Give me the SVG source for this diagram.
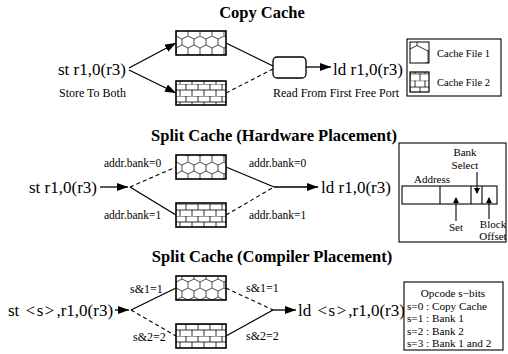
<svg xmlns="http://www.w3.org/2000/svg" width="508" height="354" viewBox="0 0 508 354">
<defs>
  <pattern id="hex" patternUnits="userSpaceOnUse" width="12" height="18" x="2" y="0">
    <path d="M0,3 L6,0 L12,3 M0,3 V9 M12,3 V9 M0,9 L6,12 L12,9 M6,12 V18" fill="none" stroke="#000" stroke-width="0.7"/>
  </pattern>
  <pattern id="hexBig" patternUnits="userSpaceOnUse" width="22" height="33" x="-1" y="-4">
    <path d="M0,5.5 L11,0 L22,5.5 M0,5.5 V16.5 M22,5.5 V16.5 M0,16.5 L11,22 L22,16.5 M11,22 V33" fill="none" stroke="#000" stroke-width="0.8"/>
  </pattern>
  <pattern id="brick" patternUnits="userSpaceOnUse" width="12" height="12" x="0" y="0">
    <path d="M0,0 H12 M0,6 H12 M6,0 V6 M0,6 V12 M12,6 V12" fill="none" stroke="#000" stroke-width="0.8"/>
  </pattern>
  <pattern id="brickSm" patternUnits="userSpaceOnUse" width="10" height="13.4" x="0" y="0">
    <path d="M0,0 H10 M0,6.7 H10 M5,0 V6.7 M0,6.7 V13.4 M10,6.7 V13.4" fill="none" stroke="#000" stroke-width="0.8"/>
  </pattern>
  <marker id="ah" markerUnits="userSpaceOnUse" markerWidth="12" markerHeight="8" refX="11" refY="4" orient="auto">
    <path d="M0,0 L11,4 L0,8 z" fill="#000"/>
  </marker>
  <marker id="ahs" markerUnits="userSpaceOnUse" markerWidth="6" markerHeight="8" refX="5" refY="3" orient="auto">
    <path d="M0,0 L6,3 L0,6 z" fill="#000"/>
  </marker>
</defs>
<style>
  text { font-family: "Liberation Serif", "Times New Roman", serif; fill: #000; }
  .title { font-size: 16.5px; font-weight: bold; text-anchor: middle; }
  .big { font-size: 17px; }
  .lbl { font-size: 12px; }
  .addr { font-size: 11.5px; }
  .sm { font-size: 11px; }
  .leg { font-size: 10.5px; }
  .op { font-size: 11.2px; }
  .cache { stroke: #000; stroke-width: 1.6; }
  .ln { stroke: #000; stroke-width: 1.3; fill: none; }
  .dash { stroke: #000; stroke-width: 1.1; fill: none; stroke-dasharray: 4 3; }
  .box { fill: #fff; stroke: #000; stroke-width: 1.1; }
</style>
<rect width="508" height="354" fill="#fff"/>

<!-- Section 1: Copy Cache -->
<text class="title" x="262" y="18">Copy Cache</text>
<g id="c1-st"><text class="big" x="58" y="75">st r1,0(r3)</text></g>
<g id="c1-st-label"><text class="lbl" x="59" y="97">Store To Both</text></g>
<g id="c1-file1"><rect class="cache" x="176" y="31" width="50" height="24" fill="url(#hex)"/></g>
<g id="c1-file2"><rect class="cache" x="176" y="81" width="50" height="24" fill="url(#brick)"/></g>
<g id="c1-port"><rect x="273" y="57" width="33" height="21" rx="4" fill="#fff" stroke="#000" stroke-width="1.3"/></g>
<g id="c1-ld"><text class="big" x="333" y="75">ld r1,0(r3)</text></g>
<g id="c1-ld-label"><text class="lbl" x="273" y="97">Read From First Free Port</text></g>
<g id="legend1">
  <rect class="box" x="407" y="39" width="94" height="57"/>
  <rect x="410" y="42" width="19" height="21" fill="url(#hexBig)" stroke="#000" stroke-width="1"/>
  <rect x="410" y="72" width="19" height="20" fill="url(#brickSm)" stroke="#000" stroke-width="1.2"/>
  <text class="leg" x="437" y="57">Cache File 1</text>
  <text class="leg" x="437" y="86">Cache File 2</text>
</g>

<!-- Section 2: Split Cache (Hardware Placement) -->
<text class="title" x="274" y="141">Split Cache (Hardware Placement)</text>
<g id="c2-st"><text class="big" x="29" y="193">st r1,0(r3)</text></g>
<g id="c2-file1"><rect class="cache" x="176" y="155" width="50" height="24" fill="url(#hex)"/></g>
<g id="c2-file2"><rect class="cache" x="176" y="203" width="50" height="24" fill="url(#brick)"/></g>
<g id="c2-ld"><text class="big" x="321" y="193">ld r1,0(r3)</text></g>
<g id="c2-labels">
  <text class="addr" x="104" y="167">addr.bank=0</text>
  <text class="addr" x="104" y="219">addr.bank=1</text>
  <text class="addr" x="249" y="167">addr.bank=0</text>
  <text class="addr" x="249" y="219">addr.bank=1</text>
</g>
<g id="address">
  <rect class="box" x="399" y="143" width="107" height="99"/>
  <rect x="402" y="186" width="95" height="18" fill="none" stroke="#000" stroke-width="1.1"/>
  <path d="M440,186 V204 M471,186 V204 M482,186 V204" stroke="#000" stroke-width="1.1"/>
  <text class="sm" x="432" y="183" text-anchor="middle">Address</text>
  <text class="sm" x="465" y="156" text-anchor="middle">Bank</text>
  <text class="sm" x="465" y="169" text-anchor="middle">Select</text>
  <line x1="477" y1="172" x2="477" y2="193" stroke="#000" stroke-width="1.1" marker-end="url(#ahs)"/>
  <line x1="456" y1="221" x2="456" y2="198" stroke="#000" stroke-width="1.1" marker-end="url(#ahs)"/>
  <line x1="489" y1="219" x2="489" y2="198" stroke="#000" stroke-width="1.1" marker-end="url(#ahs)"/>
  <text class="sm" x="456" y="231" text-anchor="middle">Set</text>
  <text class="sm" x="493" y="228" text-anchor="middle">Block</text>
  <text class="sm" x="493" y="240" text-anchor="middle">Offset</text>
</g>

<!-- Section 3: Split Cache (Compiler Placement) -->
<text class="title" x="272" y="262">Split Cache (Compiler Placement)</text>
<g id="c3-st"><text class="big" x="8" y="316">st <tspan dx="2">&lt;</tspan><tspan dx="1.5">s</tspan><tspan dx="1.5">&gt;</tspan><tspan dx="2">,r1,0(r3)</tspan></text></g>
<g id="c3-file1"><rect class="cache" x="176" y="276" width="50" height="24" fill="url(#hex)"/></g>
<g id="c3-file2"><rect class="cache" x="176" y="324" width="50" height="24" fill="url(#brick)"/></g>
<g id="c3-ld"><text class="big" x="298" y="316">ld <tspan dx="2">&lt;</tspan><tspan dx="1.5">s</tspan><tspan dx="1.5">&gt;</tspan><tspan dx="2">,r1,0(r3)</tspan></text></g>
<g id="c3-labels">
  <text class="lbl" x="130" y="293">s&amp;1=1</text>
  <text class="lbl" x="133" y="341">s&amp;2=2</text>
  <text class="lbl" x="246" y="292">s&amp;1=1</text>
  <text class="lbl" x="246" y="340">s&amp;2=2</text>
</g>
<g id="opcode">
  <rect class="box" x="404" y="282" width="99" height="68"/>
  <text class="op" x="453" y="297" text-anchor="middle">Opcode s−bits</text>
  <text class="op" x="407" y="309.5">s=0 : Copy Cache</text>
  <text class="op" x="407" y="322">s=1 : Bank 1</text>
  <text class="op" x="407" y="334.5">s=2 : Bank 2</text>
  <text class="op" x="407" y="347">s=3 : Bank 1 and 2</text>
</g>

<g id="connectors">
  <!-- section 1 -->
  <line class="ln" x1="129" y1="68" x2="176" y2="43" marker-end="url(#ah)"/>
  <line class="ln" x1="129" y1="70" x2="176" y2="93" marker-end="url(#ah)"/>
  <line class="ln" x1="226" y1="43" x2="273" y2="66"/>
  <line class="dash" x1="226" y1="93" x2="273" y2="69"/>
  <line class="ln" x1="306" y1="67" x2="331" y2="67" marker-end="url(#ah)"/>
  <!-- section 2 -->
  <line class="ln" x1="100" y1="187" x2="128" y2="187" marker-end="url(#ah)"/>
  <line class="dash" x1="130" y1="187" x2="176" y2="167"/>
  <line class="ln" x1="130" y1="187" x2="176" y2="215"/>
  <line class="ln" x1="226" y1="167" x2="274" y2="187"/>
  <line class="dash" x1="226" y1="215" x2="274" y2="187"/>
  <line class="ln" x1="274" y1="187" x2="318" y2="187" marker-end="url(#ah)"/>
  <!-- section 3 -->
  <line class="ln" x1="115" y1="310" x2="129" y2="310" marker-end="url(#ah)"/>
  <line class="ln" x1="131" y1="310" x2="176" y2="288"/>
  <line class="dash" x1="131" y1="310" x2="176" y2="336"/>
  <line class="dash" x1="226" y1="288" x2="273" y2="310"/>
  <line class="ln" x1="226" y1="336" x2="273" y2="310"/>
  <line class="ln" x1="273" y1="310" x2="296" y2="310" marker-end="url(#ah)"/>
</g>
</svg>
